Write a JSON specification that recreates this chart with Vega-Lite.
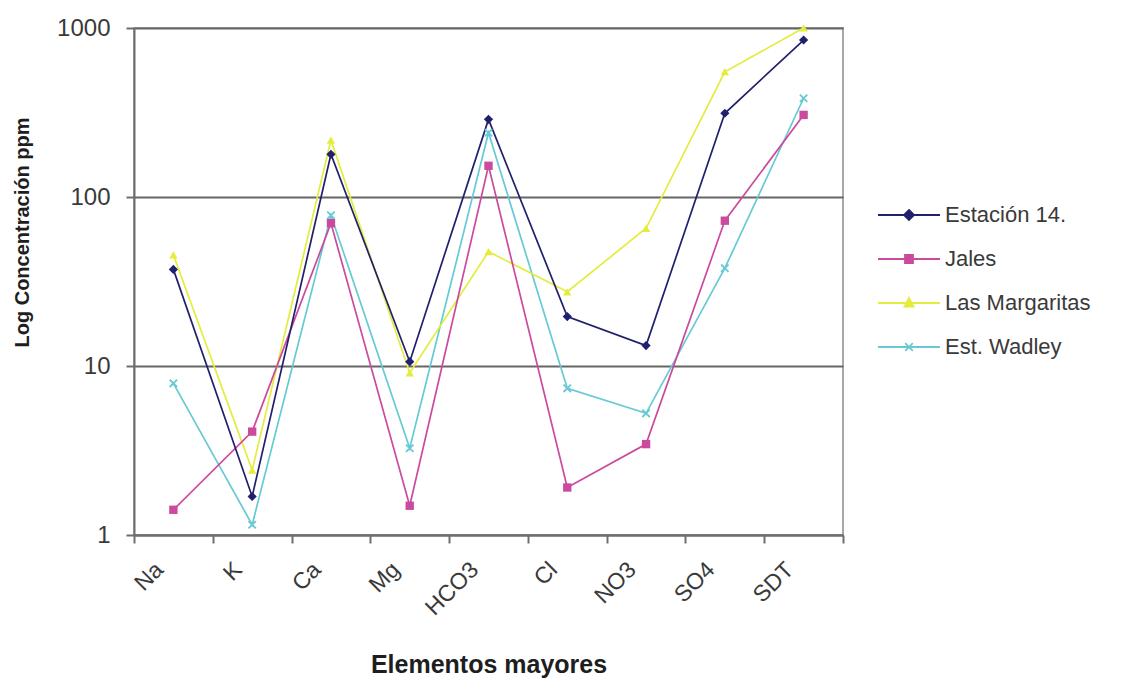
{
  "$schema": "https://vega.github.io/schema/vega-lite/v6.json",
  "width": 709,
  "height": 507,
  "autosize": "none",
  "padding": {"left": 134, "top": 28, "right": 284, "bottom": 147},
  "background": "white",
  "config": {
    "font": "Liberation Sans",
    "view": {"stroke": "#a8a8a8", "strokeWidth": 2}
  },
  "data": {
    "values": [
      {"serie": "Est. Wadley", "elemento": "Na", "ppm": 7.9},
      {"serie": "Est. Wadley", "elemento": "K", "ppm": 1.15},
      {"serie": "Est. Wadley", "elemento": "Ca", "ppm": 78},
      {"serie": "Est. Wadley", "elemento": "Mg", "ppm": 3.26},
      {"serie": "Est. Wadley", "elemento": "HCO3", "ppm": 240},
      {"serie": "Est. Wadley", "elemento": "Cl", "ppm": 7.38},
      {"serie": "Est. Wadley", "elemento": "NO3", "ppm": 5.25},
      {"serie": "Est. Wadley", "elemento": "SO4", "ppm": 37.9},
      {"serie": "Est. Wadley", "elemento": "SDT", "ppm": 384},
      {"serie": "Las Margaritas", "elemento": "Na", "ppm": 45.4},
      {"serie": "Las Margaritas", "elemento": "K", "ppm": 2.42},
      {"serie": "Las Margaritas", "elemento": "Ca", "ppm": 217},
      {"serie": "Las Margaritas", "elemento": "Mg", "ppm": 9.1},
      {"serie": "Las Margaritas", "elemento": "HCO3", "ppm": 47.5},
      {"serie": "Las Margaritas", "elemento": "Cl", "ppm": 27.5},
      {"serie": "Las Margaritas", "elemento": "NO3", "ppm": 65.3},
      {"serie": "Las Margaritas", "elemento": "SO4", "ppm": 551},
      {"serie": "Las Margaritas", "elemento": "SDT", "ppm": 1000},
      {"serie": "Jales", "elemento": "Na", "ppm": 1.41},
      {"serie": "Jales", "elemento": "K", "ppm": 4.09},
      {"serie": "Jales", "elemento": "Ca", "ppm": 70},
      {"serie": "Jales", "elemento": "Mg", "ppm": 1.49},
      {"serie": "Jales", "elemento": "HCO3", "ppm": 153},
      {"serie": "Jales", "elemento": "Cl", "ppm": 1.91},
      {"serie": "Jales", "elemento": "NO3", "ppm": 3.45},
      {"serie": "Jales", "elemento": "SO4", "ppm": 72.4},
      {"serie": "Jales", "elemento": "SDT", "ppm": 306},
      {"serie": "Estación 14.", "elemento": "Na", "ppm": 37.3},
      {"serie": "Estación 14.", "elemento": "K", "ppm": 1.69},
      {"serie": "Estación 14.", "elemento": "Ca", "ppm": 179},
      {"serie": "Estación 14.", "elemento": "Mg", "ppm": 10.6},
      {"serie": "Estación 14.", "elemento": "HCO3", "ppm": 288},
      {"serie": "Estación 14.", "elemento": "Cl", "ppm": 19.6},
      {"serie": "Estación 14.", "elemento": "NO3", "ppm": 13.2},
      {"serie": "Estación 14.", "elemento": "SO4", "ppm": 313},
      {"serie": "Estación 14.", "elemento": "SDT", "ppm": 849}
    ]
  },
  "encoding": {
    "x": {
      "field": "elemento",
      "type": "nominal",
      "sort": ["Na", "K", "Ca", "Mg", "HCO3", "Cl", "NO3", "SO4", "SDT"],
      "scale": {"paddingInner": 0, "paddingOuter": 0},
      "axis": {
        "title": "Elementos mayores",
        "titleFontSize": 25,
        "titleFontWeight": "bold",
        "titleColor": "#1e1e1e",
        "titleBaseline": "alphabetic",
        "titleY": 137,
        "labelAngle": -45,
        "labelFontSize": 23,
        "labelColor": "#3a3a3a",
        "labelPadding": 15,
        "labelOffset": -22,
        "tickBand": "extent",
        "tickSize": 8,
        "tickWidth": 2,
        "tickColor": "#6e6e6e",
        "domainColor": "#6e6e6e",
        "domainWidth": 2,
        "grid": false
      }
    },
    "y": {
      "field": "ppm",
      "type": "quantitative",
      "scale": {"type": "log", "domain": [1, 1000], "nice": false},
      "axis": {
        "title": "Log Concentración ppm",
        "titleFontSize": 20,
        "titleFontWeight": "bold",
        "titleColor": "#1e1e1e",
        "titleBaseline": "middle",
        "titleX": -112,
        "titleY": 204,
        "values": [1, 10, 100, 1000],
        "format": "d",
        "labelFontSize": 24,
        "labelColor": "#3a3a3a",
        "labelPadding": 16,
        "tickSize": 8,
        "tickWidth": 2,
        "tickColor": "#6e6e6e",
        "domainColor": "#6e6e6e",
        "domainWidth": 2,
        "grid": true,
        "gridColor": "#666666",
        "gridWidth": 2
      }
    },
    "color": {
      "field": "serie",
      "type": "nominal",
      "scale": {
        "domain": ["Estación 14.", "Jales", "Las Margaritas", "Est. Wadley"],
        "range": ["#20206e", "#cc4a9e", "#e4ec3c", "#66cad4"]
      },
      "legend": {
        "orient": "none",
        "legendX": 764,
        "legendY": 176,
        "title": null,
        "labelFontSize": 22,
        "labelColor": "#3a3a3a",
        "labelOffset": 25,
        "symbolSize": 400,
        "symbolStrokeWidth": 1.8,
        "rowPadding": 22
      }
    }
  },
  "layer": [
    {"mark": {"type": "line", "strokeWidth": 1.7}},
    {
      "transform": [{"filter": "datum.serie === 'Las Margaritas'"}],
      "mark": {"type": "point", "filled": true, "size": 70, "opacity": 1, "shape": "triangle-up"}
    },
    {
      "transform": [{"filter": "datum.serie === 'Est. Wadley'"}],
      "mark": {"type": "point", "filled": true, "size": 55, "opacity": 1, "shape": "M-1,-1L1,1M-1,1L1,-1", "stroke": "#66cad4", "strokeWidth": 1.8}
    },
    {
      "transform": [{"filter": "datum.serie === 'Jales'"}],
      "mark": {"type": "point", "filled": true, "size": 70, "opacity": 1, "shape": "square"}
    },
    {
      "transform": [{"filter": "datum.serie === 'Estación 14.'"}],
      "mark": {"type": "point", "filled": true, "size": 85, "opacity": 1, "shape": "diamond"}
    },
    {
      "transform": [{"filter": "false"}],
      "mark": {"type": "point", "filled": true, "opacity": 1},
      "encoding": {
        "shape": {
          "field": "serie",
          "type": "nominal",
          "scale": {
            "domain": ["Estación 14.", "Jales", "Las Margaritas", "Est. Wadley"],
            "range": [
              "M-3.1,0H3.1M0,-0.5L0.5,0L0,0.5L-0.5,0Z",
              "M-3.1,0H3.1M-0.4,-0.4H0.4V0.4H-0.4Z",
              "M-3.1,0H3.1M0,-0.5L0.45,0.35H-0.45Z",
              "M-3.1,0H3.1M-0.38,-0.38L0.38,0.38M-0.38,0.38L0.38,-0.38"
            ]
          }
        },
        "stroke": {
          "field": "serie",
          "type": "nominal",
          "scale": {
            "domain": ["Estación 14.", "Jales", "Las Margaritas", "Est. Wadley"],
            "range": ["#20206e", "#cc4a9e", "#e4ec3c", "#66cad4"]
          }
        }
      }
    }
  ]
}
